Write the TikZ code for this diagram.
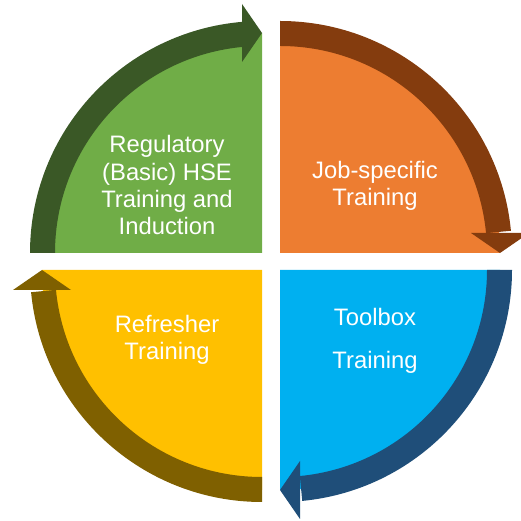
\documentclass[tikz,border=0pt]{standalone}
\usepackage{fontspec}
\setmainfont{Liberation Sans}
\definecolor{gfill}{HTML}{70AD47}
\definecolor{gband}{HTML}{3A5826}
\definecolor{ofill}{HTML}{ED7D31}
\definecolor{oband}{HTML}{843C0E}
\definecolor{bfill}{HTML}{00B0F0}
\definecolor{bband}{HTML}{1F4E79}
\definecolor{yfill}{HTML}{FFC000}
\definecolor{yband}{HTML}{7F6000}
\begin{document}
\begin{tikzpicture}[x=1pt,y=1pt,
  cyclelabel/.style={text=white, align=center,
    font=\fontsize{23.8}{27.4}\selectfont, inner sep=0pt, anchor=base}]
\useasboundingbox (0,0) rectangle (521,521);
\clip (0,0) rectangle (521,521);

% corners of the four quarter discs
\coordinate (G) at (262,268);
\coordinate (O) at (280,268);
\coordinate (B) at (280,251);
\coordinate (Y) at (262,251);

% quarter discs
\fill[gfill] (G) -- ++(-220,0) arc[start angle=180,end angle=90,radius=220] -- cycle;
\fill[ofill] (O) -- ++(0,220) arc[start angle=90,end angle=0,radius=220] -- cycle;
\fill[bfill] (B) -- ++(220,0) arc[start angle=0,end angle=-90,radius=220] -- cycle;
\fill[yfill] (Y) -- ++(0,-220) arc[start angle=270,end angle=180,radius=220] -- cycle;

% curved arrow bands
\fill[gband] ([shift={(180:232)}]G) arc[start angle=180,end angle=94.5,radius=232]
  -- ([shift={(94.5:207)}]G) arc[start angle=94.5,end angle=180,radius=207] -- cycle;
\fill[oband] ([shift={(90:232)}]O) arc[start angle=90,end angle=5.5,radius=232]
  -- ([shift={(5.5:207)}]O) arc[start angle=5.5,end angle=90,radius=207] -- cycle;
\fill[bband] ([shift={(0:232)}]B) arc[start angle=0,end angle=-84.5,radius=232]
  -- ([shift={(-84.5:207)}]B) arc[start angle=-84.5,end angle=0,radius=207] -- cycle;
\fill[yband] ([shift={(270:232)}]Y) arc[start angle=270,end angle=185.5,radius=232]
  -- ([shift={(185.5:207)}]Y) arc[start angle=185.5,end angle=270,radius=207] -- cycle;

% arrow heads
\fill[gband] ([shift={(-20,249)}]G) -- ([shift={(0,220)}]G) -- ([shift={(-20,191)}]G) -- cycle;
\fill[oband] ([shift={(191,20)}]O) -- ([shift={(220,0)}]O) -- ([shift={(249,20)}]O) -- cycle;
\fill[bband] ([shift={(20,-191)}]B) -- ([shift={(0,-220)}]B) -- ([shift={(20,-249)}]B) -- cycle;
\fill[yband] ([shift={(-191,-20)}]Y) -- ([shift={(-220,0)}]Y) -- ([shift={(-249,-20)}]Y) -- cycle;

% labels (anchored at the baseline of their last line)
\node[cyclelabel] (lg) at (167,286) {Regulatory\\(Basic) HSE\\Training and\\Induction};
\node[cyclelabel] (lo) at (375,315) {Job-specific\\Training};
\node[cyclelabel] (lb) at (375,152.7) {Toolbox\\[15pt]Training};
\node[cyclelabel] (ly) at (167,161) {Refresher\\Training};
\end{tikzpicture}
\end{document}
